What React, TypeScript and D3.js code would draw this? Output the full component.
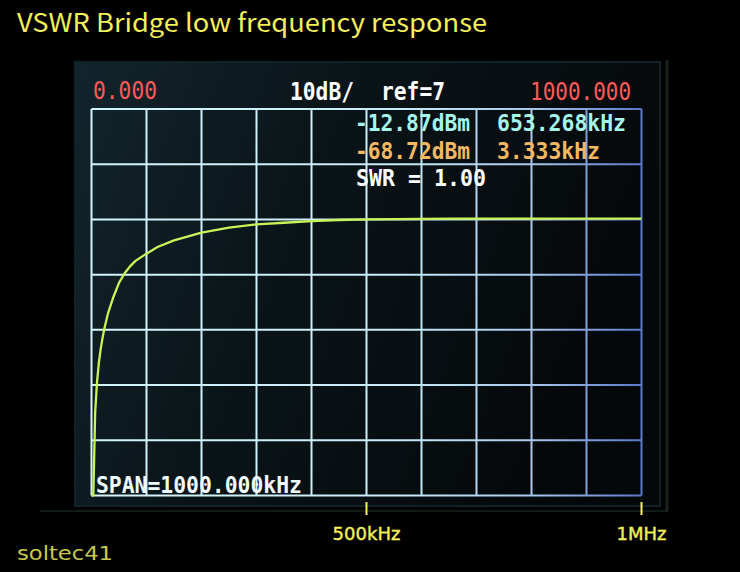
import React from "react";
import * as d3 from "d3";

// Frequency (kHz) and level (dBm)
const traceFreq = [0, 3.333, 6.667, 10, 13.333, 16.667, 20, 23.333, 30, 40, 50, 60, 70, 80, 100, 120, 150, 200, 250, 300, 350, 400, 450, 500, 600, 653.268, 700, 800, 900, 1000];
const traceDbm = [-70, -68.72, -48, -42.5, -39, -36.5, -34.5, -32.8, -30, -27, -24.5, -22.8, -21.5, -20.5, -19.2, -18, -16.8, -15.4, -14.5, -13.9, -13.6, -13.3, -13.1, -13.0, -12.9, -12.87, -12.85, -12.85, -12.85, -12.85];

const freqDomain = [0, 1000];
const dbDomain = [-63, 7];
const xGridTicks = [0, 100, 200, 300, 400, 500, 600, 700, 800, 900, 1000];
const yGridTicks = [-63, -53, -43, -33, -23, -13, -3, 7];
const axisTickFreqs = [500, 1000];
const axisTickLabels = ["500kHz", "1MHz"];

const titleText = "VSWR Bridge low frequency response";
const startLabel = "0.000";
const stopLabel = "1000.000";
const scaleLabel = "10dB/";
const refLabel = "ref=7";
const marker1 = ["-12.87dBm", "653.268kHz"];
const marker2 = ["-68.72dBm", "3.333kHz"];
const swrLabel = "SWR = 1.00";
const spanLabel = "SPAN=1000.000kHz";
const credit = "soltec41";

export default function App() {
  const W = 740, H = 572;
  const x = d3.scaleLinear().domain(freqDomain).range([91.5, 641.5]);
  const y = d3.scaleLinear().domain(dbDomain).range([495.5, 109]).clamp(true);
  const pts = traceFreq.map((f, i) => [f, traceDbm[i]] as [number, number]);
  const line = d3.line<[number, number]>().x(d => x(d[0])).y(d => y(d[1]));
  const lcdFont = "'DejaVu Sans Mono', monospace";
  const px = "'DejaVu Sans', sans-serif";

  return (
    <svg width={W} height={H} style={{ position: "fixed", left: 0, top: 0, background: "#000" }}>
      <defs>
        <linearGradient id="lcd" x1="0" y1="0" x2="1" y2="0.3">
          <stop offset="0" stopColor="#12252c" />
          <stop offset="0.45" stopColor="#0a1418" />
          <stop offset="1" stopColor="#05080a" />
        </linearGradient>
        <linearGradient id="grid" gradientUnits="userSpaceOnUse" x1="91" y1="0" x2="642" y2="0">
          <stop offset="0" stopColor="#d4f4fc" />
          <stop offset="0.55" stopColor="#c8ecf8" />
          <stop offset="0.8" stopColor="#a8c8ec" />
          <stop offset="1" stopColor="#5a78c8" />
        </linearGradient>
      </defs>
      <rect x={0} y={0} width={W} height={H} fill="#000" />
      {/* bezel lines */}
      <line x1={40} x2={668} y1={511} y2={511} stroke="#121c16" strokeWidth={2} />
      <line x1={667} x2={667} y1={60} y2={511} stroke="#16221e" strokeWidth={3} />
      {/* LCD */}
      <rect x={75} y={62} width={585} height={444} fill="url(#lcd)" />
      <rect x={75} y={62} width={585} height={444} fill="none" stroke="#0e2228" strokeWidth={2} />

      <text x={17} y={32} fill="#f4f05a" fontFamily="'Noto Sans CJK JP', 'Noto Sans', sans-serif" fontSize={25} textLength={470} lengthAdjust="spacingAndGlyphs">{titleText}</text>

      {/* header */}
      <text x={93} y={99} fill="#ff5a5a" fontFamily={lcdFont} fontSize={24} textLength={64} lengthAdjust="spacingAndGlyphs">{startLabel}</text>
      <text x={290} y={100} fill="#ffffff" fontFamily={lcdFont} fontWeight="bold" fontSize={24} textLength={64} lengthAdjust="spacingAndGlyphs">{scaleLabel}</text>
      <text x={381} y={100} fill="#ffffff" fontFamily={lcdFont} fontWeight="bold" fontSize={24} textLength={64} lengthAdjust="spacingAndGlyphs">{refLabel}</text>
      <text x={530} y={100} fill="#ff5a5a" fontFamily={lcdFont} fontSize={24} textLength={101} lengthAdjust="spacingAndGlyphs">{stopLabel}</text>

      {/* grid */}
      <g stroke="url(#grid)" strokeWidth={2}>
        {xGridTicks.map(t => (
          <line key={"v" + t} x1={x(t)} x2={x(t)} y1={y(dbDomain[1])} y2={y(dbDomain[0])} />
        ))}
        {yGridTicks.map(t => (
          <line key={"h" + t} x1={x(freqDomain[0])} x2={x(freqDomain[1])} y1={y(t)} y2={y(t)} />
        ))}
      </g>

      {/* trace */}
      <path d={line(pts) || ""} fill="none" stroke="#c8f45a" strokeWidth={2.3} strokeLinejoin="round" />

      {/* marker readouts */}
      <g fontFamily={lcdFont} fontWeight="bold" fontSize={23}>
        <text x={355} y={131} fill="#a4f6ea" textLength={115} lengthAdjust="spacingAndGlyphs">{marker1[0]}</text>
        <text x={497} y={131} fill="#a4f6ea" textLength={129} lengthAdjust="spacingAndGlyphs">{marker1[1]}</text>
        <text x={355} y={159} fill="#f4b864" textLength={115} lengthAdjust="spacingAndGlyphs">{marker2[0]}</text>
        <text x={497} y={159} fill="#f4b864" textLength={103} lengthAdjust="spacingAndGlyphs">{marker2[1]}</text>
        <text x={356} y={186} fill="#ffffff" textLength={130} lengthAdjust="spacingAndGlyphs">{swrLabel}</text>
        <text x={96} y={493} fill="#f0fcff" textLength={206} lengthAdjust="spacingAndGlyphs">{spanLabel}</text>
      </g>

      {/* axis ticks below */}
      {axisTickFreqs.map((f, i) => (
        <g key={"a" + f}>
          <line x1={x(f)} x2={x(f)} y1={502} y2={515} stroke="#f4f05a" strokeWidth={2} />
          <text x={x(f)} y={540} fill="#f4f05a" fontFamily={px} fontSize={18} stroke="#f4f05a" strokeWidth={0.4} textAnchor="middle">{axisTickLabels[i]}</text>
        </g>
      ))}

      <text x={17} y={560} fill="#c8c850" fontFamily={px} fontSize={20} textLength={96} lengthAdjust="spacingAndGlyphs">{credit}</text>
    </svg>
  );
}
